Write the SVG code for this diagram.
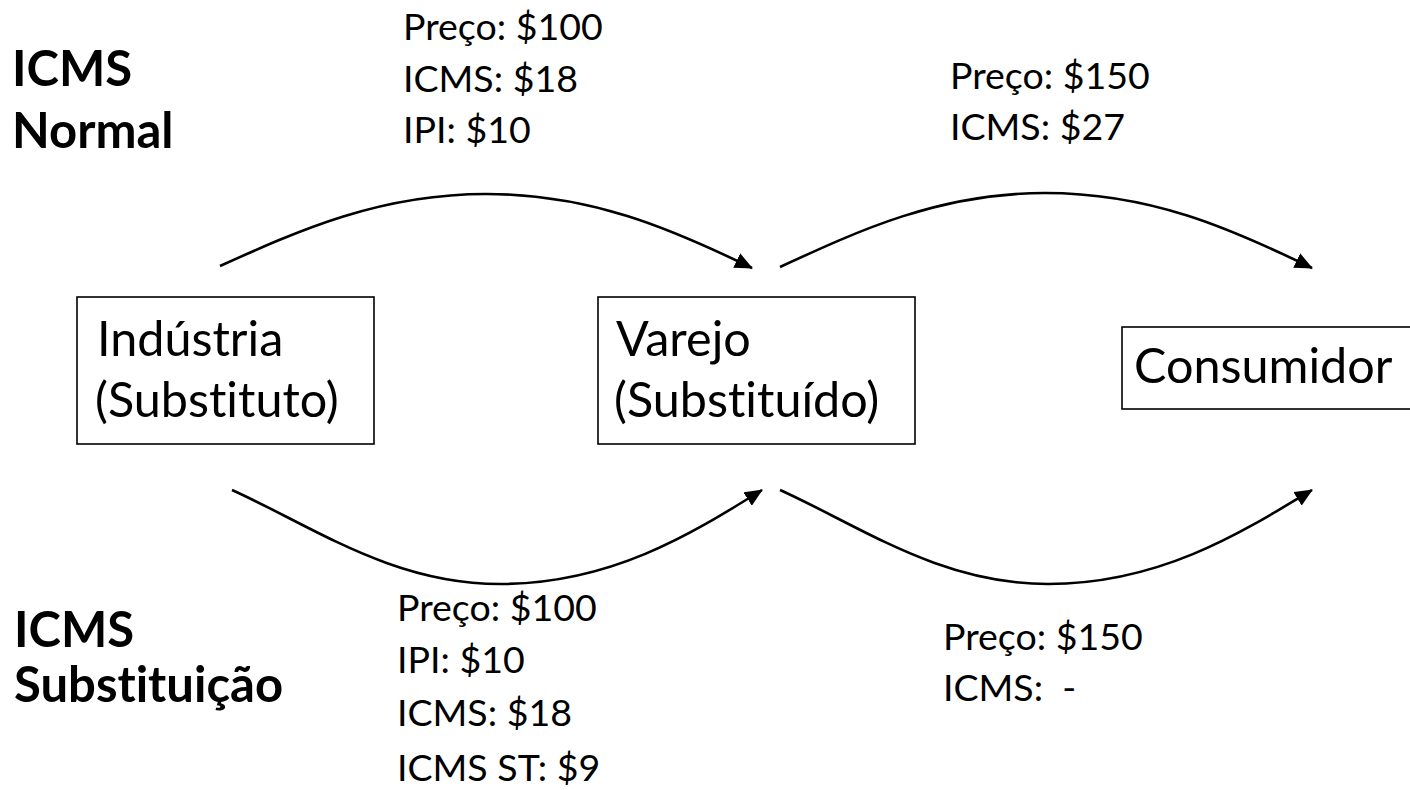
<svg xmlns="http://www.w3.org/2000/svg" width="1410" height="790" viewBox="0 0 1410 790">
<style>
  text { font-family: Lato, "Open Sans", "Liberation Sans", sans-serif; fill: #000; font-variant-ligatures: none; font-feature-settings: "liga" 0, "clig" 0; }
  .lbl { font-size: 37.5px; }
  .box-t { font-size: 48.5px; }
  .head { font-size: 49px; font-weight: bold; }
  .box { fill: #fff; stroke: #000; stroke-width: 1.6; }
  .conn { fill: none; stroke: #000; stroke-width: 2.6; }
</style>
<defs>
  <marker id="arrow" viewBox="0 0 18 16" refX="17" refY="8" markerWidth="18" markerHeight="16" markerUnits="userSpaceOnUse" orient="auto">
    <path d="M0,0 L18,8 L0,16 Z" fill="#000"/>
  </marker>
</defs>
<rect width="1410" height="790" fill="#fff"/>

<g id="head-normal">
  <text class="head" x="12" y="86">ICMS</text>
  <text class="head" x="12" y="148">Normal</text>
</g>
<g id="head-st">
  <text class="head" x="14" y="647">ICMS</text>
  <text class="head" x="14" y="702">Substituição</text>
</g>

<g id="label-normal-1">
  <text class="lbl" x="403" y="40">Preço: $100</text>
  <text class="lbl" x="403" y="92">ICMS: $18</text>
  <text class="lbl" x="403" y="143">IPI: $10</text>
</g>
<g id="label-normal-2">
  <text class="lbl" x="950" y="89">Preço: $150</text>
  <text class="lbl" x="950" y="140">ICMS: $27</text>
</g>
<g id="label-st-1">
  <text class="lbl" x="397" y="621">Preço: $100</text>
  <text class="lbl" x="397" y="673">IPI: $10</text>
  <text class="lbl" x="397" y="726">ICMS: $18</text>
  <text class="lbl" x="397" y="781">ICMS ST: $9</text>
</g>
<g id="label-st-2">
  <text class="lbl" x="943" y="650">Preço: $150</text>
  <text class="lbl" x="943" y="701" xml:space="preserve">ICMS:  -</text>
</g>

<g id="industria">
  <rect class="box" x="77" y="297" width="297" height="147"/>
  <text class="box-t" x="97" y="356">Indústria</text>
  <text class="box-t" x="95" y="417">(Substituto)</text>
</g>
<g id="varejo">
  <rect class="box" x="598" y="297" width="317" height="147"/>
  <text class="box-t" x="616" y="356">Varejo</text>
  <text class="box-t" x="614" y="417">(Substituído)</text>
</g>
<g id="consumidor">
  <rect class="box" x="1122" y="327" width="300" height="82"/>
  <text class="box-t" x="1134" y="383">Consumidor</text>
</g>

<g id="connectors">
  <path class="conn" marker-end="url(#arrow)" d="M220,266 C300,230 380,194 486,194 C590,194 670,228 752,268"/>
  <path class="conn" marker-end="url(#arrow)" d="M780,267 C860,230 940,193 1045,193 C1150,193 1230,228 1312,268"/>
  <path class="conn" marker-end="url(#arrow)" d="M232,490 C312,526 392,584 500,584 C610,584 690,535 762,490"/>
  <path class="conn" marker-end="url(#arrow)" d="M780,490 C860,526 940,584 1048,584 C1158,584 1238,535 1312,490"/>
</g>
</svg>
